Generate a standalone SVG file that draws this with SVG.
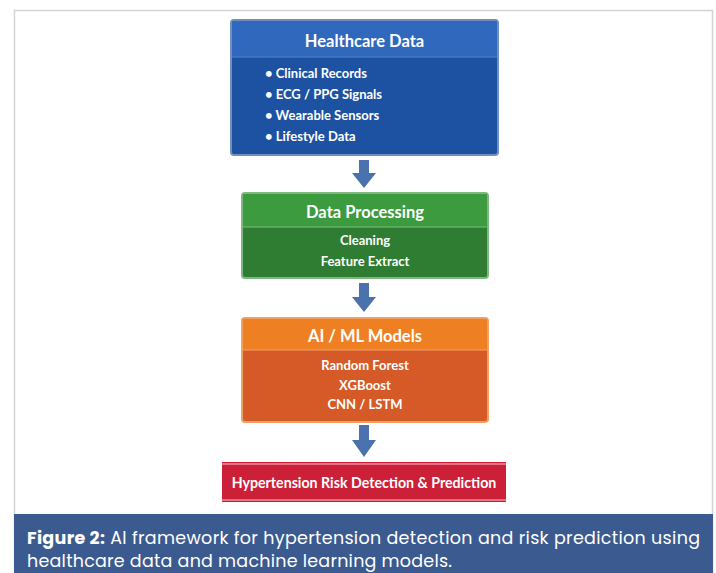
<svg xmlns="http://www.w3.org/2000/svg" width="716" height="573" viewBox="0 0 716 573">
<defs>
<style>
.t{font-family:Lato,"Open Sans","Liberation Sans",sans-serif;font-weight:bold;fill:#fff;text-anchor:middle}
.title{font-size:16.5px}
.item{font-size:13px}
.cap{font-family:Poppins,Inter,"Noto Sans","Liberation Sans",sans-serif;font-size:17.5px;fill:#fff}
.arrow{fill:#4a72ae}
</style>
</defs>
<rect x="0" y="0" width="716" height="573" fill="#fff"/>
<rect x="14.5" y="10.5" width="698" height="563" fill="#fff" stroke="#d4d4d4" stroke-width="1.5"/>
<rect x="14" y="514" width="699" height="59" fill="#3b5a8f"/>
<text class="cap" x="27" y="544" textLength="673" lengthAdjust="spacing"><tspan font-weight="bold">Figure 2:</tspan> AI framework for hypertension detection and risk prediction using</text>
<text class="cap" x="27" y="567" textLength="425" lengthAdjust="spacing">healthcare data and machine learning models.</text>

<g id="healthcare-data">
<rect x="231" y="20" width="267" height="135" rx="3" fill="#1d52a3" stroke="#6f8fbf" stroke-width="2"/>
<rect x="232" y="21" width="265" height="36" fill="#2f68bd"/>
<line x1="232" y1="57" x2="497" y2="57" stroke="#5b82c4" stroke-width="1"/>
<text class="t title" x="364.5" y="47">Healthcare Data</text>
<g class="t item" style="text-anchor:start">
<text x="265" y="78">• Clinical Records</text>
<text x="265" y="99">• ECG / PPG Signals</text>
<text x="265" y="120">• Wearable Sensors</text>
<text x="265" y="141">• Lifestyle Data</text>
</g>
</g>

<g id="data-processing">
<rect x="242" y="193" width="246" height="85" rx="3" fill="#2e7d32" stroke="#7fb77f" stroke-width="2"/>
<rect x="243" y="194" width="244" height="33" fill="#3c9a3f"/>
<line x1="243" y1="227" x2="487" y2="227" stroke="#7cbf7c" stroke-width="1"/>
<text class="t title" x="365" y="218">Data Processing</text>
<text class="t item" x="365" y="245">Cleaning</text>
<text class="t item" x="365" y="266">Feature Extract</text>
</g>

<g id="ai-ml-models">
<rect x="242" y="318" width="246" height="104" rx="3" fill="#d55a27" stroke="#f0a060" stroke-width="2"/>
<rect x="243" y="319" width="244" height="31" fill="#ef7f23"/>
<line x1="243" y1="350" x2="487" y2="350" stroke="#f3a066" stroke-width="1"/>
<text class="t title" x="365" y="342">AI / ML Models</text>
<text class="t item" x="365" y="370">Random Forest</text>
<text class="t item" x="365" y="390">XGBoost</text>
<text class="t item" x="365" y="409">CNN / LSTM</text>
</g>

<g id="risk-prediction">
<rect x="222" y="462" width="284" height="40" fill="#cc1f38"/>
<line x1="222" y1="464" x2="506" y2="464" stroke="#ec8e9a" stroke-width="1.5"/>
<line x1="222" y1="500" x2="506" y2="500" stroke="#ec8e9a" stroke-width="1.5"/>
<text class="t" x="364" y="488" style="font-size:14.2px">Hypertension Risk Detection &amp; Prediction</text>
</g>

<g id="connectors">
<path class="arrow" d="M359,160 H369 V173 H376 L364,188 L352,173 H359 Z"/>
<path class="arrow" d="M359,283 H369 V297 H376 L364,312 L352,297 H359 Z"/>
<path class="arrow" d="M359,425 H369 V440 H376 L364,457 L352,440 H359 Z"/>
</g>
</svg>
